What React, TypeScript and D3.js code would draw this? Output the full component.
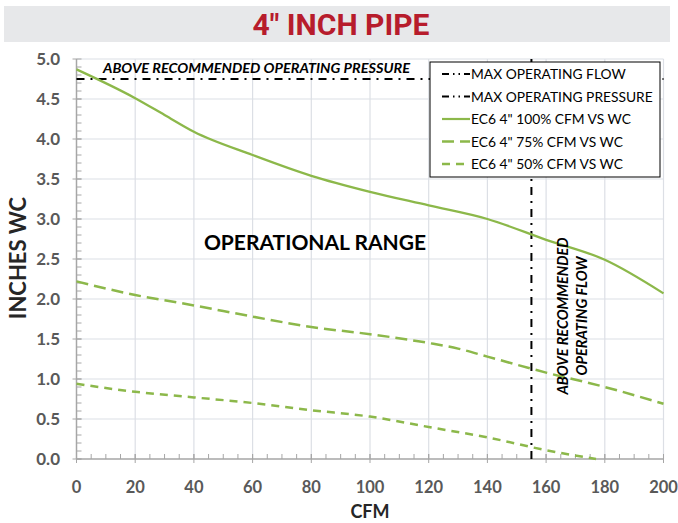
import React from "react";
import * as d3 from "d3";

const cfm100 = [0, 20, 30, 40, 60, 80, 100, 120, 140, 160, 180, 200];
const wc100 = [4.87, 4.51, 4.3, 4.09, 3.8, 3.54, 3.34, 3.17, 3.0, 2.74, 2.49, 2.07];
const cfm75 = [0, 20, 40, 60, 80, 100, 120, 130, 140, 160, 180, 200];
const wc75 = [2.22, 2.05, 1.92, 1.78, 1.65, 1.56, 1.45, 1.38, 1.28, 1.08, 0.9, 0.69];
const cfm50 = [0, 20, 40, 60, 80, 100, 120, 140, 160, 177];
const wc50 = [0.94, 0.84, 0.77, 0.7, 0.61, 0.53, 0.4, 0.27, 0.11, 0.0];
const maxFlow = 155;
const maxPressure = 4.75;
const xTicks = [0, 20, 40, 60, 80, 100, 120, 140, 160, 180, 200];
const yTicks = [0, 0.5, 1, 1.5, 2, 2.5, 3, 3.5, 4, 4.5, 5];
const legendLabels = [
  "MAX OPERATING FLOW",
  "MAX OPERATING PRESSURE",
  "EC6 4\" 100%  CFM VS WC",
  "EC6 4\" 75% CFM VS WC",
  "EC6 4\" 50% CFM VS WC",
];

const GREEN = "#8cb84a";
const AXIS = "#a6a6a6";
const GRID = "#dcdfe5";
const LABEL = "#595959";
const FONT = "Lato, 'Open Sans', sans-serif";

export default function App() {
  const x = d3.scaleLinear().domain([0, 200]).range([76.5, 663.5]);
  const y = d3.scaleLinear().domain([0, 5]).range([459, 59]);
  const line = d3
    .line<[number, number]>()
    .x((d) => x(d[0]))
    .y((d) => y(d[1]))
    .curve(d3.curveMonotoneX);
  const zip = (a: number[], b: number[]) => a.map((v, i) => [v, b[i]] as [number, number]);
  const minorX = d3.range(0, 201, 5);
  const minorY = d3.range(0, 50, 1).map((v) => v / 10);
  const dashDot = "8,6,2,6";
  const legendStyles = [
    { dash: "7,4,1.5,4,1.5,4", color: "#000", w: 2 },
    { dash: "7,4,1.5,4,1.5,4", color: "#000", w: 2 },
    { dash: "none", color: GREEN, w: 2.2 },
    { dash: "12,6", color: GREEN, w: 2.5 },
    { dash: "8,6", color: GREEN, w: 2.5 },
  ];

  return (
    <svg
      width={678}
      height={523}
      style={{ position: "absolute", left: 0, top: 0, background: "#fff" }}
      fontFamily={FONT}
    >
      <rect x={4} y={6} width={666} height={36} fill="#e7e8ea" />
      <text
        x={341}
        y={35}
        textAnchor="middle"
        fontFamily="Roboto, sans-serif"
        fontWeight={700}
        fontSize={30}
        fill="#b71c2c"
        textLength={177}
        lengthAdjust="spacingAndGlyphs"
      >
        4" INCH PIPE
      </text>

      {/* grid */}
      {yTicks.slice(1).map((t) => (
        <line key={"gy" + t} x1={x(0)} x2={x(200)} y1={y(t)} y2={y(t)} stroke={GRID} strokeWidth={1.2} />
      ))}
      {xTicks.slice(1).map((t) => (
        <line key={"gx" + t} x1={x(t)} x2={x(t)} y1={y(0)} y2={y(5)} stroke={GRID} strokeWidth={1.2} />
      ))}

      {/* axes */}
      <line x1={x(0)} x2={x(0)} y1={y(0)} y2={y(5)} stroke={AXIS} strokeWidth={1.5} />
      <line x1={x(0)} x2={x(200)} y1={y(0)} y2={y(0)} stroke={AXIS} strokeWidth={1.5} />
      {minorY.map((t) => (
        <line key={"my" + t} x1={x(0)} x2={x(0) + 5} y1={y(t)} y2={y(t)} stroke={AXIS} strokeWidth={1} />
      ))}
      {yTicks.map((t) => (
        <line key={"ty" + t} x1={x(0) - 4} x2={x(0) + 5} y1={y(t)} y2={y(t)} stroke={AXIS} strokeWidth={1} />
      ))}
      {minorX.map((t) => (
        <line key={"mx" + t} x1={x(t)} x2={x(t)} y1={y(0)} y2={y(0) - 5} stroke={AXIS} strokeWidth={1} />
      ))}
      {xTicks.map((t) => (
        <line key={"tx" + t} x1={x(t)} x2={x(t)} y1={y(0) + 4} y2={y(0) - 5} stroke={AXIS} strokeWidth={1} />
      ))}

      {yTicks.map((t) => (
        <text key={"ly" + t} x={60} y={y(t) + 6} textAnchor="end" fontSize={17} fontWeight={700} fill={LABEL}>
          {t.toFixed(1)}
        </text>
      ))}
      {xTicks.map((t) => (
        <text key={"lx" + t} x={x(t)} y={493} textAnchor="middle" fontSize={16.5} fontWeight={700} fill={LABEL}>
          {t}
        </text>
      ))}
      <text x={370} y={518} textAnchor="middle" fontSize={18} fontWeight={700} fill="#262626">
        CFM
      </text>
      <text
        transform={`translate(26,258) rotate(-90)`}
        textAnchor="middle"
        fontSize={22}
        fontWeight={700}
        fill="#262626"
      >
        INCHES WC
      </text>

      {/* max lines */}
      <line x1={x(0)} x2={x(200)} y1={y(maxPressure)} y2={y(maxPressure)} stroke="#000" strokeWidth={2} strokeDasharray={dashDot} />
      <line x1={x(maxFlow)} x2={x(maxFlow)} y1={y(0)} y2={y(5)} stroke="#000" strokeWidth={2} strokeDasharray={dashDot} />

      {/* series */}
      <path d={line(zip(cfm100, wc100)) || ""} fill="none" stroke={GREEN} strokeWidth={2.3} />
      <path d={line(zip(cfm75, wc75)) || ""} fill="none" stroke={GREEN} strokeWidth={2.5} strokeDasharray="12,6" />
      <path d={line(zip(cfm50, wc50)) || ""} fill="none" stroke={GREEN} strokeWidth={2.5} strokeDasharray="8,6" />

      {/* annotations */}
      <text x={103} y={73} fontSize={13.5} fontWeight={700} fontStyle="italic" fill="#000" textLength={307} lengthAdjust="spacingAndGlyphs">
        ABOVE RECOMMENDED OPERATING PRESSURE
      </text>
      <text x={315} y={250} textAnchor="middle" fontSize={21} fontWeight={700} fill="#000">
        OPERATIONAL RANGE
      </text>
      <g transform="translate(568,316) rotate(-90)">
        <text x={0} y={0} textAnchor="middle" fontSize={14.5} fontWeight={700} fontStyle="italic" fill="#000">
          ABOVE RECOMMENDED
        </text>
        <text x={0} y={19} textAnchor="middle" fontSize={14.5} fontWeight={700} fontStyle="italic" fill="#000">
          OPERATING FLOW
        </text>
      </g>

      {/* legend */}
      <rect x={430} y={62} width={230} height={115} fill="#fff" stroke="#000" strokeWidth={1} />
      {legendLabels.map((lab, i) => {
        const ly = 74 + i * 22.5;
        const s = legendStyles[i];
        return (
          <g key={lab}>
            <line x1={442} x2={470} y1={ly} y2={ly} stroke={s.color} strokeWidth={s.w} strokeDasharray={s.dash} />
            <text x={471} y={ly + 5} fontSize={13.8} fill="#000">
              {lab}
            </text>
          </g>
        );
      })}
    </svg>
  );
}
